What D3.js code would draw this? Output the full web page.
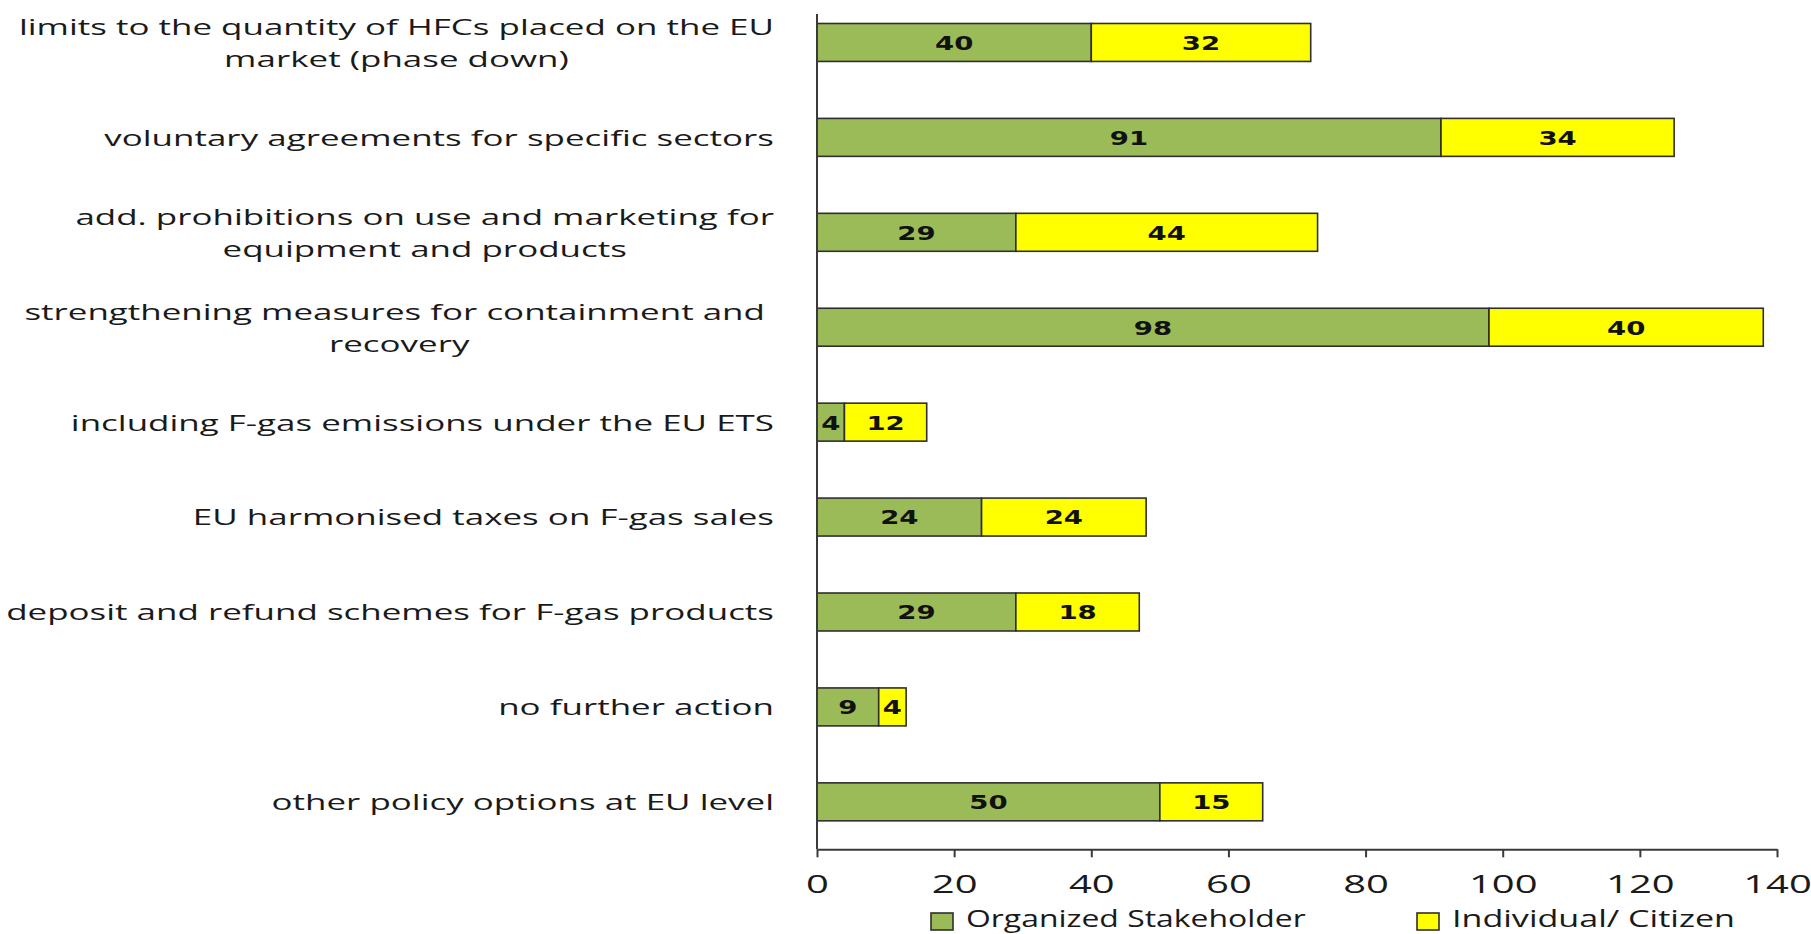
<!DOCTYPE html>
<html>
<head>
<meta charset="utf-8">
<script src="https://cdn.jsdelivr.net/npm/d3@7"></script>
<style>
  html, body { margin: 0; padding: 0; background: #fff; }
  svg { display: block; }
</style>
</head>
<body>
<svg id="chart" width="1811" height="934"></svg>
<script>
// ---- data ----
const categories = [
  ["limits to the quantity of HFCs placed on the EU", "market (phase down)"],
  ["voluntary agreements for specific sectors"],
  ["add. prohibitions on use and marketing for", "equipment and products"],
  ["strengthening measures for containment and ", "recovery"],
  ["including F-gas emissions under the EU ETS"],
  ["EU harmonised taxes on F-gas sales"],
  ["deposit and refund schemes for F-gas products"],
  ["no further action"],
  ["other policy options at EU level"]
];
const seriesNames = ["Organized Stakeholder", "Individual/ Citizen"];
const organized = [40, 91, 29, 98, 4, 24, 29, 9, 50];
const individual = [32, 34, 44, 40, 12, 24, 18, 4, 15];
const xTicks = [0, 20, 40, 60, 80, 100, 120, 140];
const colors = ["#9BBB59", "#FFFF00"];

// ---- layout ----
const svg = d3.select("#chart");
const plotLeft = 817, plotRight = 1777, plotTop = -5, plotBottom = 849.3;
const catIdx = d3.range(categories.length);

const x = d3.scaleLinear().domain([0, 140]).range([plotLeft, plotRight]);
const y = d3.scaleBand().domain(catIdx).range([plotTop, plotBottom])
  .paddingInner(0.6).paddingOuter(0.3);

const stackData = catIdx.map(i => ({i, a: organized[i], b: individual[i]}));
const stack = d3.stack().keys(["a", "b"])(stackData);

// bars
const layers = svg.append("g").selectAll("g").data(stack).join("g")
  .attr("fill", (d, k) => colors[k]);
layers.selectAll("rect").data(d => d).join("rect")
  .attr("x", d => x(d[0]))
  .attr("y", d => y(d.data.i))
  .attr("width", d => x(d[1]) - x(d[0]))
  .attr("height", y.bandwidth())
  .attr("stroke", "#2f2f2f")
  .attr("stroke-width", 1.6);

// value labels
const VSX = 1.45;
layers.selectAll("text").data(d => d).join("text")
  .attr("transform", d => `translate(${(x(d[0]) + x(d[1])) / 2},${y(d.data.i) + y.bandwidth() / 2 + 1}) scale(${VSX},1)`)
  .attr("text-anchor", "middle")
  .attr("dominant-baseline", "central")
  .attr("font-family", "DejaVu Sans")
  .attr("font-weight", "bold")
  .attr("font-size", 19)
  .attr("fill", "#111")
  .text(d => d[1] - d[0]);

// y axis line
svg.append("line")
  .attr("x1", plotLeft).attr("x2", plotLeft)
  .attr("y1", 14).attr("y2", plotBottom)
  .attr("stroke", "#3a3a3a").attr("stroke-width", 2);

// x axis
const xAxis = svg.append("g")
  .attr("transform", `translate(0,${plotBottom})`)
  .call(d3.axisBottom(x).tickValues(xTicks).tickSize(8).tickPadding(18).tickSizeOuter(0));
xAxis.select(".domain").attr("stroke", "#3a3a3a").attr("stroke-width", 2);
xAxis.selectAll(".tick line").attr("stroke", "#3a3a3a").attr("stroke-width", 2);
xAxis.selectAll(".tick text")
  .attr("font-family", "Open Sans")
  .attr("font-size", 25)
  .attr("fill", "#1a1a1a")
  .attr("transform", "scale(1.6,1)");

// category labels
const LSX = 1.665, labelRight = 774, lineGap = 32;
const lab = svg.append("g").selectAll("g").data(catIdx).join("g")
  .attr("transform", i => `translate(${labelRight},${y(i) + y.bandwidth() / 2}) scale(${LSX},1)`);
lab.each(function(i) {
  const lines = categories[i];
  const g = d3.select(this);
  const n = lines.length;
  const first = g.append("text")
    .attr("x", 0)
    .attr("y", (0 - (n - 1) / 2) * lineGap)
    .attr("text-anchor", "end")
    .attr("dominant-baseline", "central")
    .style("white-space", "pre")
    .attr("font-family", "Open Sans")
    .attr("font-size", 21)
    .attr("fill", "#1a1a1a")
    .text(lines[0]);
  if (n > 1) {
    const w = first.node().getComputedTextLength();
    for (let k = 1; k < n; k++) {
      g.append("text")
        .attr("x", -w / 2)
        .attr("y", (k - (n - 1) / 2) * lineGap)
        .attr("text-anchor", "middle")
        .attr("dominant-baseline", "central")
        .attr("font-family", "Open Sans")
        .attr("font-size", 21)
        .attr("fill", "#1a1a1a")
        .text(lines[k]);
    }
  }
});

// legend
const legendX = [931, 1417];
const leg = svg.append("g").selectAll("g").data(seriesNames).join("g")
  .attr("transform", (d, k) => `translate(${legendX[k]},913)`);
leg.append("rect")
  .attr("width", 22).attr("height", 17)
  .attr("fill", (d, k) => colors[k])
  .attr("stroke", "#2f2f2f").attr("stroke-width", 1.6);
leg.append("text")
  .attr("transform", (d, k) => `translate(35,13.5) scale(${k === 0 ? 1.33 : 1.42},1)`)
  .attr("font-family", "Open Sans")
  .attr("font-size", 24)
  .attr("fill", "#1a1a1a")
  .text(d => d);
</script>
</body>
</html>
